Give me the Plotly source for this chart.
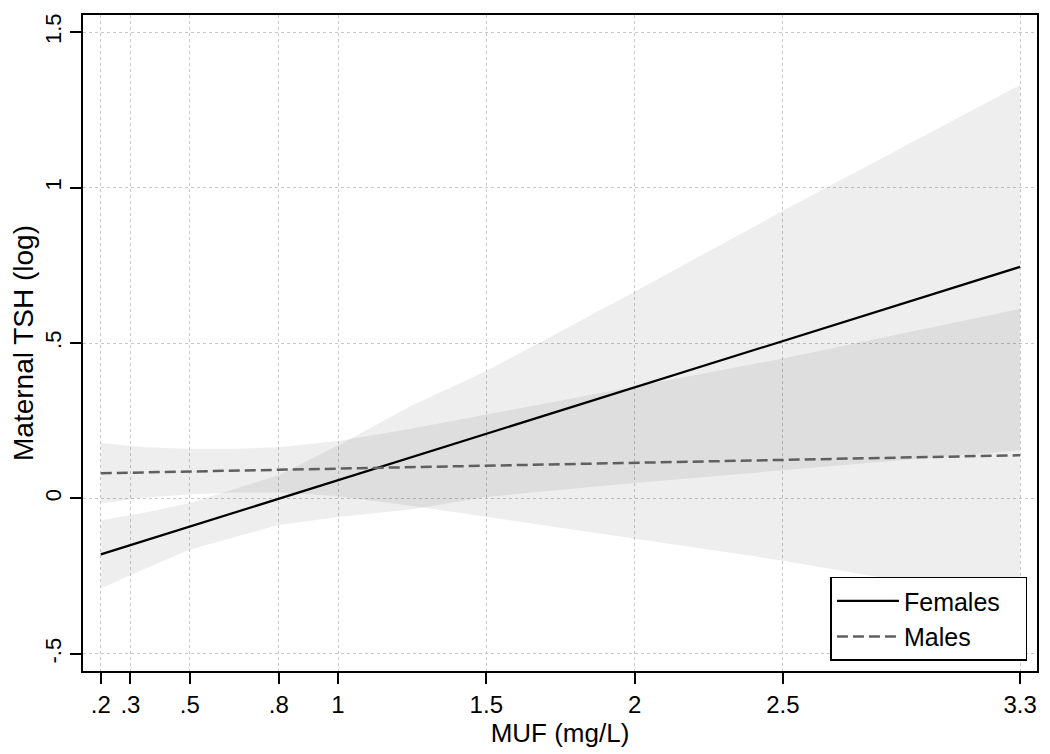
import plotly.graph_objects as go

# ------------------ data ------------------ #
muf_grid = [0.2, 0.35, 0.5, 0.65, 0.8, 1.0, 1.25, 1.5, 2.0, 2.5, 3.3]

fem_upper = [-0.07, -0.045, -0.015, 0.03, 0.075, 0.17, 0.30, 0.41, 0.665, 0.925, 1.33]
fem_lower = [-0.29, -0.225, -0.165, -0.125, -0.085, -0.06, -0.035, 0.005, 0.05, 0.09, 0.155]

male_upper = [0.178, 0.165, 0.16, 0.16, 0.165, 0.185, 0.225, 0.27, 0.36, 0.45, 0.61]
male_lower = [-0.016, 0.003, 0.013, 0.019, 0.019, 0.007, -0.024, -0.06, -0.13, -0.20, -0.33]

fit_x = [0.2, 3.3]
fem_fit = [-0.18, 0.745]
male_fit = [0.081, 0.139]

x_ticks = [0.2, 0.3, 0.5, 0.8, 1, 1.5, 2, 2.5, 3.3]
x_ticktext = [".2", ".3", ".5", ".8", "1", "1.5", "2", "2.5", "3.3"]
y_ticks = [-0.5, 0, 0.5, 1, 1.5]
y_ticktext = ["-.5", "0", ".5", "1", "1.5"]

band_fill = "rgba(0,0,0,0.065)"
font_family = "Liberation Sans, Arial, Helvetica, sans-serif"
pad = "\u00a0" * 3  # right padding inside the legend box

fig = go.Figure()

# confidence bands (overlap gets darker because fills are translucent)
for up, lo in [(fem_upper, fem_lower), (male_upper, male_lower)]:
    fig.add_trace(go.Scatter(x=muf_grid + muf_grid[::-1],
                             y=up + lo[::-1],
                             fill="toself", fillcolor=band_fill,
                             line=dict(width=0), mode="lines",
                             hoverinfo="skip", showlegend=False))

fig.add_trace(go.Scatter(x=fit_x, y=fem_fit, mode="lines", name="Females" + pad,
                         line=dict(color="black", width=2.2)))
fig.add_trace(go.Scatter(x=fit_x, y=male_fit, mode="lines", name="Males" + pad,
                         line=dict(color="#5f5f5f", width=2.5, dash="11px,5px")))

axis_common = dict(showline=True, linecolor="black", linewidth=2, mirror=True,
                   ticks="outside", ticklen=11, tickwidth=2, tickcolor="black",
                   showgrid=True, gridcolor="#c8c8c8", griddash="dot", gridwidth=1,
                   zeroline=False, automargin=False)

fig.update_xaxes(range=[0.140, 3.357], tickvals=x_ticks, ticktext=x_ticktext,
                 tickfont=dict(size=24, color="black"),
                 title=dict(text="MUF (mg/L)", font=dict(size=26, color="black"), standoff=0),
                 **axis_common)
fig.update_yaxes(range=[-0.555, 1.555], tickvals=y_ticks, ticktext=y_ticktext, tickangle=-90,
                 tickfont=dict(size=22, color="black"),
                 title=dict(text="Maternal TSH (log)", font=dict(size=28, color="black"), standoff=4),
                 **axis_common)

# the page body has an 8px margin, so the figure is shrunk by 8px and margins shifted
fig.update_layout(width=1042, height=746,
                  margin=go.layout.Margin(l=75, r=13, t=7, b=83),
                  plot_bgcolor="white", paper_bgcolor="white",
                  font=dict(family=font_family, size=24, color="black"),
                  legend=dict(x=0.990, y=0.0157, xanchor="right", yanchor="bottom",
                              bgcolor="white", bordercolor="black", borderwidth=1.5,
                              itemwidth=62, font=dict(size=25)))

fig.write_html("out.html")
